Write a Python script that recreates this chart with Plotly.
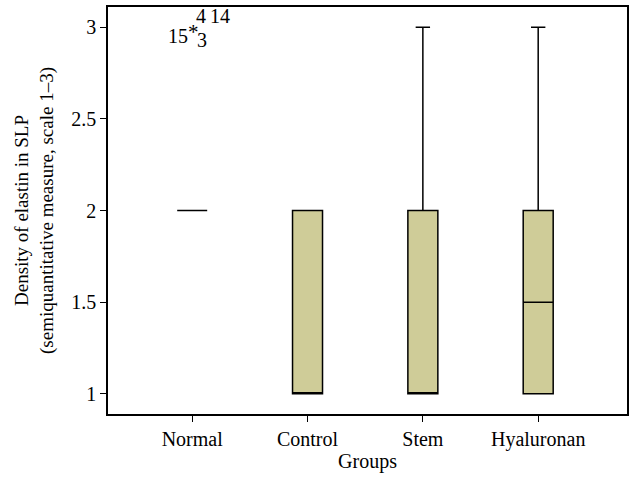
import plotly.graph_objects as go

groups = ["Normal", "Control", "Stem", "Hyaluronan"]
q1 = [2, 1, 1, 1]
median = [2, 1, 1, 1.5]
q3 = [2, 2, 2, 2]
lower = [2, 1, 1, 1]
upper = [2, 2, 3, 3]

outlier_group = "Normal"
outlier_value = 3
outlier_symbol = "*"
outlier_cases = ["15", "3", "4", "14"]

font_family = "Liberation Serif"

fig = go.Figure()
fig.add_trace(go.Box(
    x=groups, q1=q1, median=median, q3=q3,
    lowerfence=lower, upperfence=upper,
    fillcolor="#cfcc98",
    line=dict(color="black", width=1.5),
    width=0.26, whiskerwidth=0.48,
    boxpoints=False, showlegend=False, hoverinfo="skip",
))

# extreme outlier asterisk
fig.add_annotation(
    x=outlier_group, y=outlier_value, text=outlier_symbol, showarrow=False,
    xshift=1, yshift=-5,
    font=dict(family=font_family, size=21, color="black"),
)

offsets = [(-14, -9), (10, -13), (9, 11), (28, 11)]
for case, (dx, dy) in zip(outlier_cases, offsets):
    fig.add_annotation(
        x=outlier_group, y=outlier_value, text=case, showarrow=False,
        xshift=dx, yshift=dy,
        font=dict(family=font_family, size=20, color="black"),
    )

fig.update_layout(
    width=632, height=483,
    margin=dict(l=108, r=5, t=7, b=69, autoexpand=False),
    plot_bgcolor="white", paper_bgcolor="white",
    font=dict(family=font_family, size=20, color="black"),
    xaxis=dict(
        range=[-0.73, 3.77], showline=True, linecolor="black", linewidth=1.5,
        mirror=True, ticks="outside", ticklen=6, tickcolor="black",
        tickfont=dict(size=20),
        showgrid=False, zeroline=False,
        title=dict(text="Groups", standoff=4, font=dict(size=20)),
    ),
    yaxis=dict(
        range=[0.89, 3.11], showline=True, linecolor="black", linewidth=1.5,
        mirror=True, ticks="outside", ticklen=6, tickcolor="black",
        tickfont=dict(size=20),
        tickvals=[1, 1.5, 2, 2.5, 3], ticktext=["1", "1.5", "2", "2.5", "3"],
        showgrid=False, zeroline=False,
        title=dict(text="Density of elastin in SLP<br>(semiquantitative measure, scale 1–3)", standoff=13, font=dict(size=19)),
    ),
)

fig.write_html(
    "out.html",
    config={"displayModeBar": False},
    post_script="document.body.style.margin='0';document.body.style.overflow='hidden';",
)
